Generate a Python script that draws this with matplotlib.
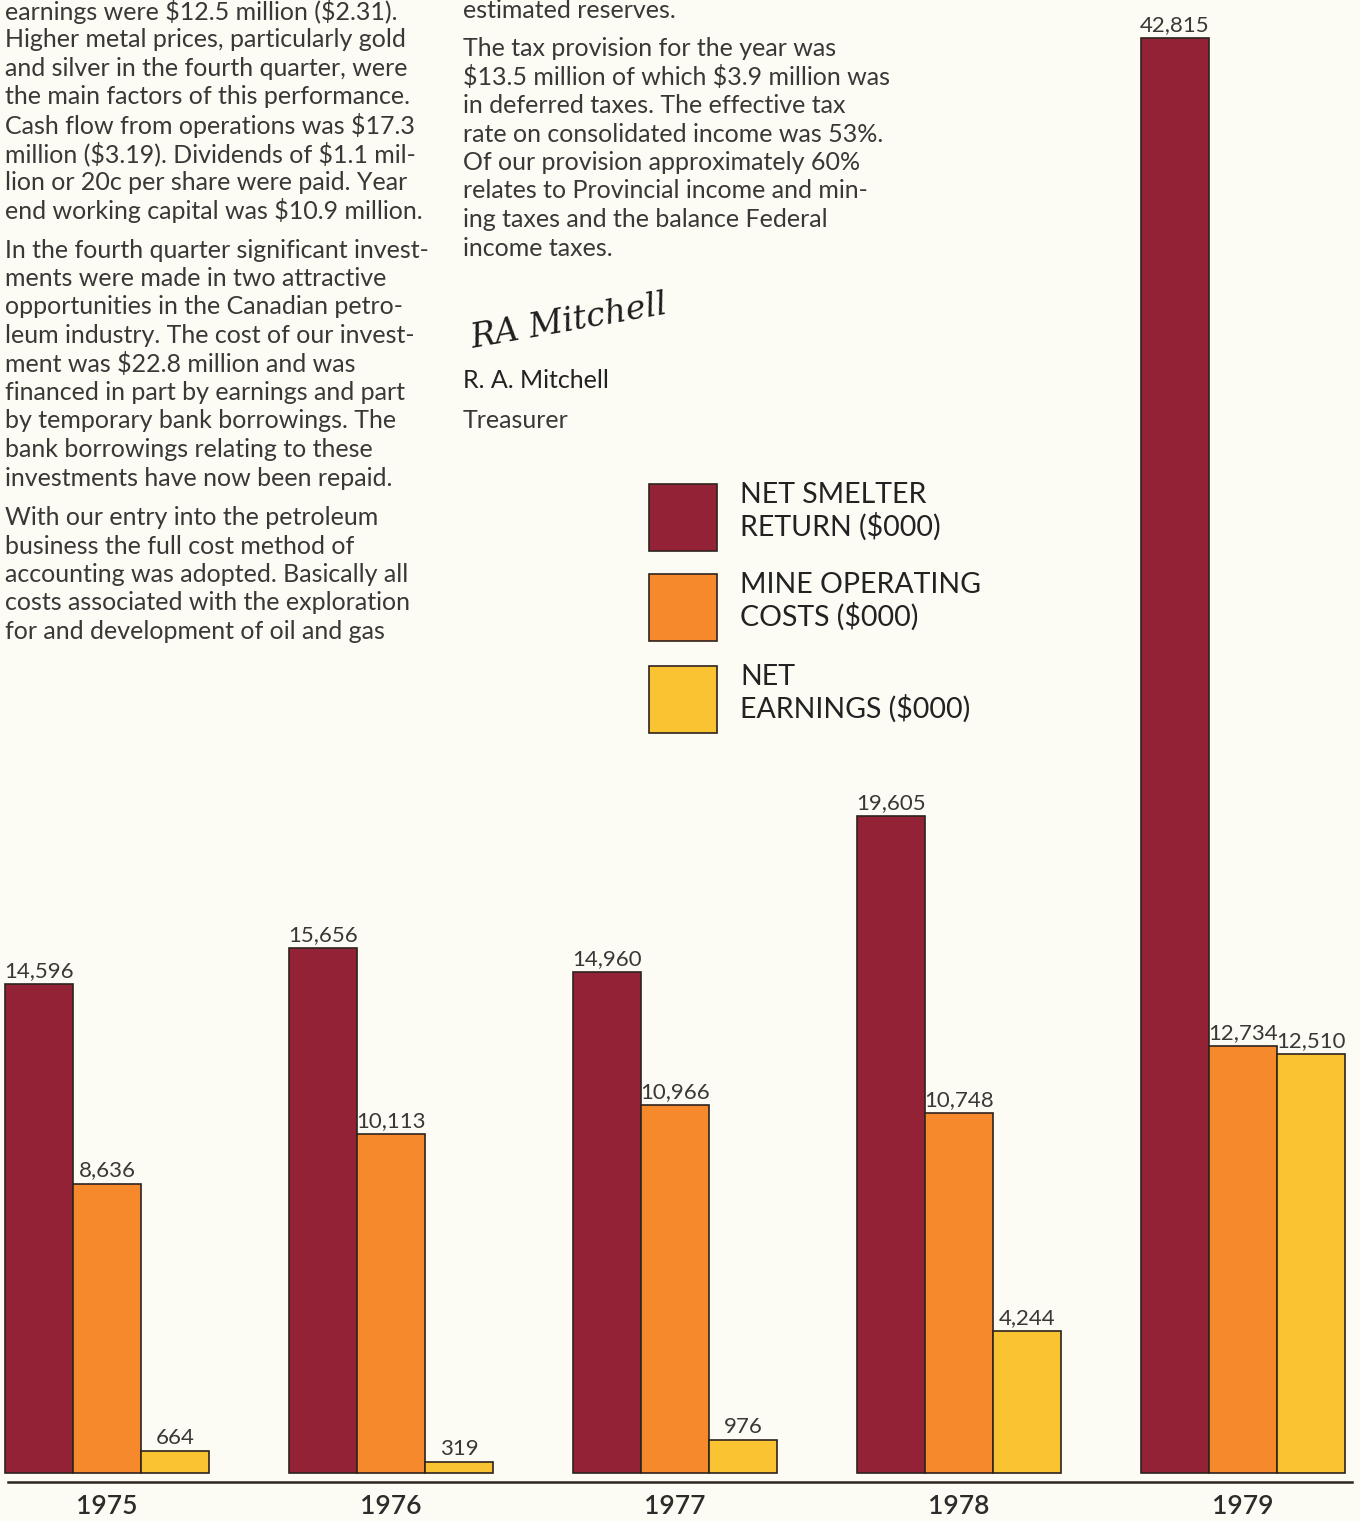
import matplotlib
matplotlib.use("Agg")
import matplotlib.pyplot as plt
from matplotlib.patches import Rectangle
from matplotlib.lines import Line2D

# ---------------- data ----------------
years = ["1975", "1976", "1977", "1978", "1979"]
net_smelter_return = [14596, 15656, 14960, 19605, 42815]
mine_operating_costs = [8636, 10113, 10966, 10748, 12734]
net_earnings = [664, 319, 976, 4244, 12510]
series_names = ["NET SMELTER\nRETURN ($000)", "MINE OPERATING\nCOSTS ($000)", "NET\nEARNINGS ($000)"]

left_col = [
    ["earnings were $12.5 million ($2.31).",
     "Higher metal prices, particularly gold",
     "and silver in the fourth quarter, were",
     "the main factors of this performance.",
     "Cash flow from operations was $17.3",
     "million ($3.19). Dividends of $1.1 mil-",
     "lion or 20c per share were paid. Year",
     "end working capital was $10.9 million."],
    ["In the fourth quarter significant invest-",
     "ments were made in two attractive",
     "opportunities in the Canadian petro-",
     "leum industry. The cost of our invest-",
     "ment was $22.8 million and was",
     "financed in part by earnings and part",
     "by temporary bank borrowings. The",
     "bank borrowings relating to these",
     "investments have now been repaid."],
    ["With our entry into the petroleum",
     "business the full cost method of",
     "accounting was adopted. Basically all",
     "costs associated with the exploration",
     "for and development of oil and gas"],
]
right_col = [
    ["estimated reserves."],
    ["The tax provision for the year was",
     "$13.5 million of which $3.9 million was",
     "in deferred taxes. The effective tax",
     "rate on consolidated income was 53%.",
     "Of our provision approximately 60%",
     "relates to Provincial income and min-",
     "ing taxes and the balance Federal",
     "income taxes."],
]

# ---------------- style ----------------
W, H = 1360, 1521
BG = "#FCFBF4"
TXT = "#3a3837"
COLORS = ["#932236", "#F6892C", "#FAC332"]
EDGE = "#2e2420"
FONT = ["Lato", "DejaVu Sans"]

def esc(s):
    return s.replace("$", r"\$")

fig = plt.figure(figsize=(W / 100, H / 100), dpi=100, facecolor=BG)

def fy(py):
    return 1 - py / H

def fx(px):
    return px / W

# axes mapping
base_px = 1473
px_per_unit = 1435 / 42815.0
group_px = 284
first_px = 107
bw = 68 / group_px

ax = fig.add_axes([0, 0, 1, 1])
ax.set_facecolor("none")
ax.set_xlim(-first_px / group_px, (W - first_px) / group_px)
ax.set_ylim(-(H - base_px) / px_per_unit, base_px / px_per_unit)
ax.axis("off")

x = list(range(len(years)))
for k, (vals, col) in enumerate(zip([net_smelter_return, mine_operating_costs, net_earnings], COLORS)):
    xs = [xi + (k - 1) * bw for xi in x]
    bars = ax.bar(xs, vals, width=bw, color=col, edgecolor=EDGE, linewidth=1.2)
    for b, v in zip(bars, vals):
        ax.annotate(f"{v:,}", (b.get_x() + b.get_width() / 2, v),
                    xytext=(0, 7), textcoords="offset pixels",
                    ha="center", va="baseline", fontsize=16,
                    family=FONT, fontweight="normal", color=TXT)

for xi, yr in zip(x, years):
    ax.annotate(yr, (xi, 0), xytext=(0, -33), textcoords="offset pixels",
                ha="center", va="center", fontsize=19, family=FONT,
                fontweight="semibold", color="#2e2c2b")

# baseline rule
fig.add_artist(Line2D([fx(8), fx(1352)], [fy(1482), fy(1482)], color=EDGE, lw=1.8))

# ---------------- body text ----------------
def column(paras, x0, y0, gap):
    y = y0
    for para in paras:
        for line in para:
            fig.text(fx(x0), fy(y), esc(line), ha="left", va="center", fontsize=18,
                     family=FONT, fontweight="normal", color=TXT)
            y += 28.5
        y += gap

column(left_col, 5, 11, 11)
column(right_col, 463, 10, 10)

# signature & name
fig.text(fx(468), fy(322), "RA Mitchell", ha="left", va="center", fontsize=24,
         family="DejaVu Serif", style="italic", color="#1e1e1e",
         rotation=10)
fig.text(fx(463), fy(381), "R. A. Mitchell", ha="left", va="center", fontsize=18,
         family=FONT, fontweight="normal", color="#222222")
fig.text(fx(463), fy(420), "Treasurer", ha="left", va="center", fontsize=18,
         family=FONT, fontweight="normal", color=TXT)

# ---------------- legend ----------------
leg_tops = [484, 574, 666]
for top, col, name in zip(leg_tops, COLORS, series_names):
    fig.add_artist(Rectangle((fx(649), fy(top + 67)), 68 / W, 67 / H,
                             facecolor=col, edgecolor=EDGE, lw=1.2))
    l1, l2 = name.split("\n")
    fig.text(fx(740), fy(top + 11), esc(l1), ha="left", va="center", fontsize=20.5,
             family=FONT, color="#222222")
    fig.text(fx(740), fy(top + 43), esc(l2), ha="left", va="center", fontsize=20.5,
             family=FONT, color="#222222")

fig.savefig("out.png", dpi=100, facecolor=BG)
